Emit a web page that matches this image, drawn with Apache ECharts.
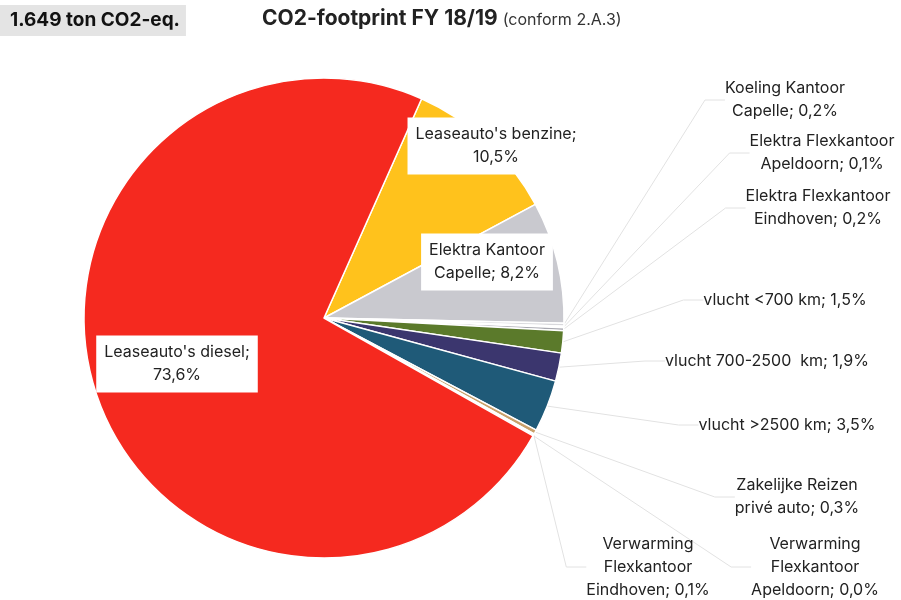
<!DOCTYPE html>
<html>
<head>
<meta charset="utf-8">
<script src="https://cdn.jsdelivr.net/npm/echarts@6/dist/echarts.min.js"></script>
<style>html,body{margin:0;padding:0;background:#fff}#c{width:901px;height:600px}</style>
</head>
<body>
<div id="c"></div>
<script>
const categories = [
  "Leaseauto's benzine",
  "Elektra Kantoor\nCapelle",
  "Koeling Kantoor\nCapelle",
  "Elektra Flexkantoor\nApeldoorn",
  "Elektra Flexkantoor\nEindhoven",
  "vlucht <700 km",
  "vlucht 700-2500  km",
  "vlucht >2500 km",
  "Zakelijke Reizen\nprivé auto",
  "Verwarming\nFlexkantoor\nEindhoven",
  "Verwarming\nFlexkantoor\nApeldoorn",
  "Leaseauto's diesel"
];
const values = [10.5, 8.2, 0.2, 0.1, 0.2, 1.5, 1.9, 3.5, 0.3, 0.1, 0.04, 73.6];
const colors = ['#ffc21c','#c9c9cf','#d8d8dc','#b8b8be','#a8a8b0','#5b7a2b','#3b366e','#1f5a78','#c9a06a','#e0c8a8','#e8d8c0','#f5291f'];
const insideIdx = [0, 1, 11];
// label anchor points (layout only)
const labelPos = [
  [496,146],[487,262],[785,100],[822,153],[818,208],[785,300],[767,361],[787,425],[797,497],[648,567],[815,567],[177,364]
];
const fmt = v => v.toFixed(1).replace('.', ',') + '%';

const data = categories.map((n, i) => {
  const inside = insideIdx.includes(i);
  const sep = (i === 0 || i === 11) ? ';\n' : '; ';
  return {
    name: n,
    value: values[i],
    itemStyle: { color: colors[i] },
    label: inside ? {
      position: 'inside',
      backgroundColor: '#fff',
      padding: [6, 8, 5, 8],
      formatter: p => p.name + sep + fmt(p.value)
    } : {
      position: 'outside',
      formatter: p => p.name + '; ' + fmt(p.value)
    },
    labelLine: { show: !inside }
  };
});

const chart = echarts.init(document.getElementById('c'));
chart.setOption({
  animation: false,
  title: [
    {
      text: '1.649 ton CO2-eq.',
      left: 0, top: 5,
      backgroundColor: '#e4e4e4',
      padding: [6, 6, 6, 10],
      textStyle: { fontFamily: 'Inter, Roboto, sans-serif', fontSize: 19, fontWeight: 'bold', color: '#111' }
    },
    {
      text: '{a|CO2-footprint FY 18/19} {b|(conform 2.A.3)}',
      left: 262, top: 8,
      padding: 0,
      textStyle: {
        rich: {
          a: { fontFamily: 'Inter, Roboto, sans-serif', fontSize: 21, fontWeight: 'bold', color: '#222' },
          b: { fontFamily: 'Inter, Roboto, sans-serif', fontSize: 16, fontWeight: 'normal', color: '#333', padding: [3, 0, 0, 0] }
        }
      }
    }
  ],
  series: [{
    type: 'pie',
    center: [324, 318],
    radius: 240,
    startAngle: 66,
    clockwise: true,
    data: data,
    itemStyle: { borderColor: '#fff', borderWidth: 1.5 },
    label: {
      fontFamily: 'Inter, Roboto, sans-serif',
      fontSize: 16,
      color: '#222',
      lineHeight: 23,
      align: 'center'
    },
    labelLine: { lineStyle: { color: '#e2e2e2', width: 1 }, length: 20, length2: 20 },
    labelLayout: function (p) {
      const pos = labelPos[p.dataIndex];
      return { x: pos[0], y: pos[1], align: 'center', verticalAlign: 'middle' };
    }
  }]
});
</script>
</body>
</html>
